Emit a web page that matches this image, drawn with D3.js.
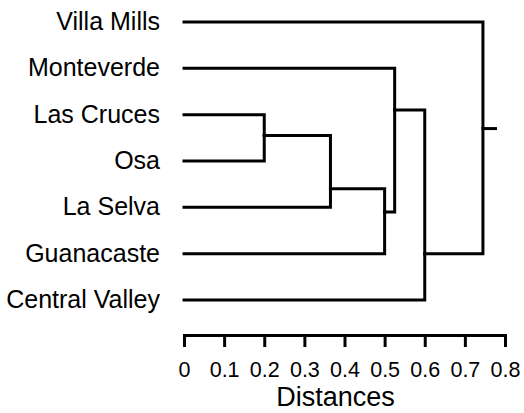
<!DOCTYPE html>
<html>
<head>
<meta charset="utf-8">
<script src="https://cdn.jsdelivr.net/npm/d3@7"></script>
<style>
  body { margin: 0; background: #fff; }
  svg { display: block; font-family: "Liberation Sans", Arial, sans-serif; }
</style>
</head>
<body>
<svg id="dendro"></svg>
<script>
// leaves, top to bottom
const leaves = ["Villa Mills", "Monteverde", "Las Cruces", "Osa", "La Selva", "Guanacaste", "Central Valley"];

// merges: two children, distance, and the row (in leaf units) where the parent joins
const mergeIds = ["A", "B", "C", "D", "E", "F"];
const mergeLeft = ["Las Cruces", "A", "B", "Monteverde", "D", "Villa Mills"];
const mergeRight = ["Osa", "La Selva", "Guanacaste", "C", "Central Valley", "E"];
const mergeHeight = [0.2, 0.365, 0.5, 0.525, 0.6, 0.745];
const mergeRow = [2.45, 3.6, 4.1, 1.9, 5, 2.3];
const rootStub = 0.78;

const tickValues = [0, 0.1, 0.2, 0.3, 0.4, 0.5, 0.6, 0.7, 0.8];
const tickLabels = ["0", "0.1", "0.2", "0.3", "0.4", "0.5", "0.6", "0.7", "0.8"];

const width = 524, height = 413;

const svg = d3.select("#dendro").attr("width", width).attr("height", height);

const x = d3.scaleLinear().domain([0, 0.8]).range([184, 505]);
const y = d3.scaleLinear().domain([0, leaves.length - 1]).range([22, 300]);

// node lookup: height + row
const nodes = new Map();
leaves.forEach((name, i) => nodes.set(name, { h: 0, row: i }));
mergeIds.forEach((id, i) => nodes.set(id, { h: mergeHeight[i], row: mergeRow[i] }));

const links = [];
mergeIds.forEach((id, i) => {
  links.push({ child: nodes.get(mergeLeft[i]), parent: nodes.get(id) });
  links.push({ child: nodes.get(mergeRight[i]), parent: nodes.get(id) });
});

svg.append("g")
  .selectAll("path")
  .data(links)
  .join("path")
  .attr("d", (d) => `M${x(d.child.h)},${y(d.child.row)}H${x(d.parent.h)}V${y(d.parent.row)}`)
  .attr("fill", "none")
  .attr("stroke", "#000")
  .attr("stroke-width", 3)
  .attr("stroke-linejoin", "miter")
  .attr("stroke-linecap", "square");

// root stub
const root = nodes.get(mergeIds[mergeIds.length - 1]);
svg.append("line")
  .attr("x1", x(root.h))
  .attr("x2", x(rootStub))
  .attr("y1", y(root.row))
  .attr("y2", y(root.row))
  .attr("stroke", "#000")
  .attr("stroke-width", 3);

// leaf labels
svg.append("g")
  .selectAll("text")
  .data(leaves)
  .join("text")
  .attr("x", x(0) - 24)
  .attr("y", (d, i) => y(i))
  .attr("dy", "0.32em")
  .attr("text-anchor", "end")
  .style("font-size", "25px")
  .attr("fill", "#000")
  .text((d) => d);

// axis
const axis = d3.axisBottom(x)
  .tickValues(tickValues)
  .tickFormat((d, i) => tickLabels[i])
  .tickSize(12)
  .tickSizeOuter(0)
  .tickPadding(15);

const gx = svg.append("g")
  .attr("transform", "translate(0,335)")
  .call(axis);

gx.select(".domain").attr("stroke-width", 3).attr("stroke-linecap", "square");
gx.selectAll(".tick line").attr("stroke-width", 3);
gx.selectAll(".tick text")
  .style("font-size", "21.5px")
  .style("font-family", "'Liberation Sans', Arial, sans-serif")
  .attr("fill", "#000");

svg.append("text")
  .attr("x", (x.range()[0] + x.range()[1]) / 2 - 9)
  .attr("y", 406)
  .attr("text-anchor", "middle")
  .style("font-size", "27px")
  .attr("fill", "#000")
  .text("Distances");
</script>
</body>
</html>
